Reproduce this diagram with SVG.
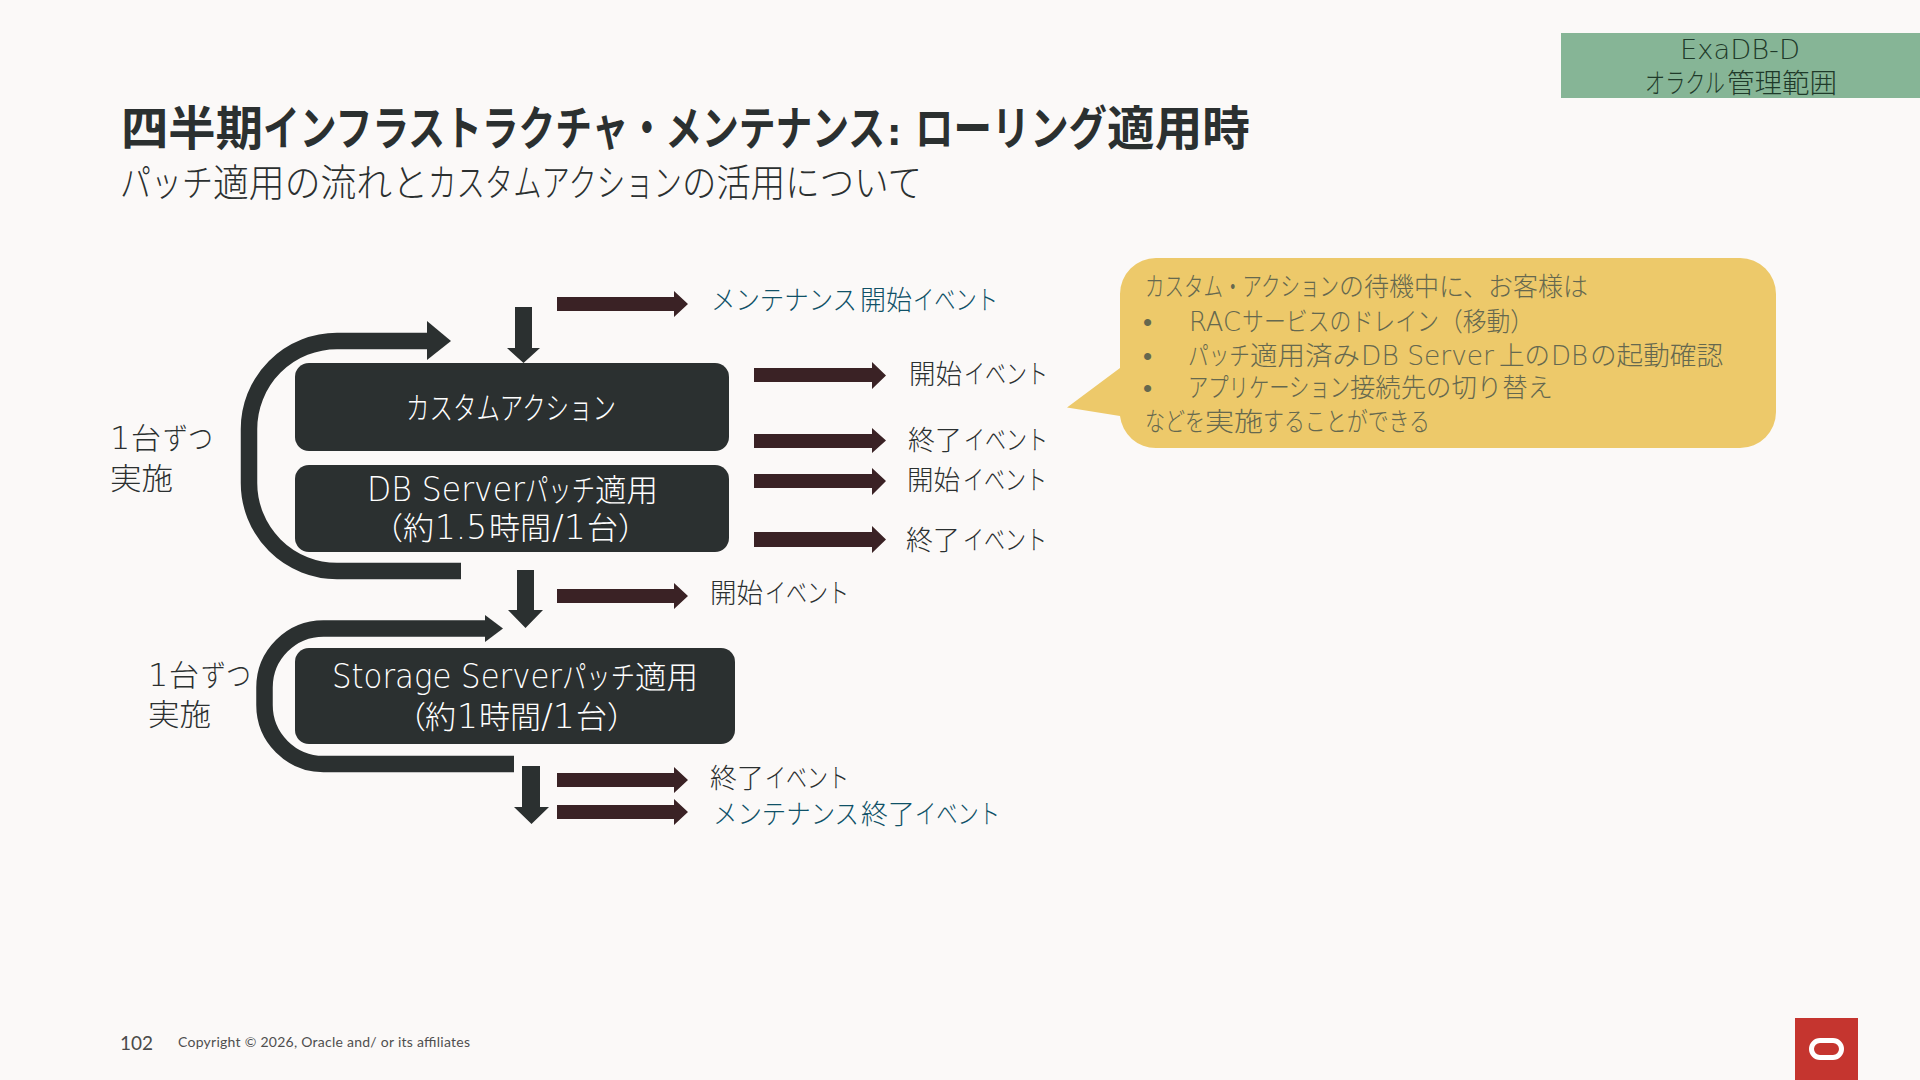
<svg xmlns="http://www.w3.org/2000/svg" width="1920" height="1080" viewBox="0 0 1920 1080">
<style>
text{font-family:"Noto Sans CJK JP",sans-serif;font-weight:300}
.l{font-family:"DejaVu Sans",sans-serif;font-weight:200}
.box{fill:#2b3030}
.bw{fill:#fff;font-size:31px}
.ev{fill:#2b3030;font-size:27px}
.mt{fill:#0f5167;font-size:27px}
.lb{fill:#2b3030;font-size:30px}
.co{fill:#65684f;font-size:26px}
.ra{fill:#3a2225}
.da{fill:#2b3030}
.loop{fill:none;stroke:#2b3030;stroke-width:16.5}
</style>
<rect width="1920" height="1080" fill="#fbf9f8"/>
<g id="title">
<text y="145" font-size="47" style="font-weight:700" fill="#2b3030"><tspan x="121" textLength="142" lengthAdjust="spacingAndGlyphs">四半期</tspan><tspan x="263" textLength="622" lengthAdjust="spacingAndGlyphs">インフラストラクチャ・メンテナンス</tspan><tspan x="887" class="l" style="font-weight:700" font-size="36">: </tspan><tspan x="915" textLength="192" lengthAdjust="spacingAndGlyphs">ローリング</tspan><tspan x="1107" textLength="143" lengthAdjust="spacingAndGlyphs">適用時</tspan></text>
<text y="196" font-size="38" fill="#2b3030"><tspan x="120" textLength="93" lengthAdjust="spacingAndGlyphs">パッチ</tspan><tspan x="213" textLength="215" lengthAdjust="spacingAndGlyphs">適用の流れと</tspan><tspan x="428" textLength="254" lengthAdjust="spacingAndGlyphs">カスタムアクション</tspan><tspan x="682" textLength="240" lengthAdjust="spacingAndGlyphs">の活用について</tspan></text>
</g>
<g id="badge">
<rect x="1561" y="33" width="359" height="65" fill="#86b596"/>
<text class="l" x="1680" y="59" font-size="27" fill="#1f3a2a" textLength="120" lengthAdjust="spacingAndGlyphs">ExaDB-D</text>
<text y="93" font-size="27" fill="#1f3a2a"><tspan x="1645" textLength="80" lengthAdjust="spacingAndGlyphs">オラクル</tspan><tspan x="1727" textLength="110" lengthAdjust="spacingAndGlyphs">管理範囲</tspan></text>
</g>
<g id="connectors">
<path class="loop" d="M430 341H337A88 88 0 0 0 249 429V483A88 88 0 0 0 337 571H461"/>
<polygon class="da" points="427,321 451,341 427,360"/>
<path class="loop" d="M488 628.500H323.500A59 59 0 0 0 264.500 687.500V705A59 59 0 0 0 323.500 764H514"/>
<polygon class="da" points="485,615 503,628.500 485,642"/>
<polygon class="da" points="515,307 532,307 532,348 540,348 523.500,363 507,348 515,348"/>
<polygon class="da" points="517,570 534,570 534,610 543,610 525.500,628 508,610 517,610"/>
<polygon class="da" points="522,766 540,766 540,807 549,807 531.500,824 514,807 522,807"/>
<polygon class="ra" points="557,297 674,297 674,291 688,304 674,317 674,311 557,311"/>
<polygon class="ra" points="754,368 872,368 872,362 886,375.500 872,389 872,382 754,382"/>
<polygon class="ra" points="754,434 872,434 872,428 886,440.500 872,453 872,448 754,448"/>
<polygon class="ra" points="754,474 872,474 872,468 886,481 872,495 872,488 754,488"/>
<polygon class="ra" points="754,532 872,532 872,526 886,539.500 872,553 872,547 754,547"/>
<polygon class="ra" points="557,589 674,589 674,583 688,596 674,609 674,603 557,603"/>
<polygon class="ra" points="557,773 674,773 674,767 688,780 674,793 674,787 557,787"/>
<polygon class="ra" points="557,805 674,805 674,799 688,812 674,825 674,819 557,819"/>
</g>
<g id="node-custom">
<rect class="box" x="295" y="363" width="434" height="88" rx="14"/>
<text class="bw" x="406" y="419" font-size="32" textLength="210" lengthAdjust="spacingAndGlyphs">カスタムアクション</text>
</g>
<g id="node-db">
<rect class="box" x="295" y="465" width="434" height="87" rx="14"/>
<text class="bw" y="501"><tspan class="l" x="367" font-size="33" textLength="158" lengthAdjust="spacingAndGlyphs">DB Server</tspan><tspan x="525" textLength="70" lengthAdjust="spacingAndGlyphs">パッチ</tspan><tspan x="595" textLength="63" lengthAdjust="spacingAndGlyphs">適用</tspan></text>
<text class="bw" y="539"><tspan x="372">（</tspan><tspan x="403">約</tspan><tspan class="l" x="435" font-size="33" textLength="52" lengthAdjust="spacingAndGlyphs">1.5</tspan><tspan x="489" textLength="62" lengthAdjust="spacingAndGlyphs">時間</tspan><tspan class="l" x="552" font-size="33" textLength="34" lengthAdjust="spacingAndGlyphs">/1</tspan><tspan x="587">台</tspan><tspan x="618">）</tspan></text>
</g>
<g id="node-storage">
<rect class="box" x="295" y="648" width="440" height="96" rx="14"/>
<text class="bw" y="688"><tspan class="l" x="332" font-size="33" textLength="230" lengthAdjust="spacingAndGlyphs">Storage Server</tspan><tspan x="562" textLength="73" lengthAdjust="spacingAndGlyphs">パッチ</tspan><tspan x="635" textLength="63" lengthAdjust="spacingAndGlyphs">適用</tspan></text>
<text class="bw" y="728"><tspan x="395">（</tspan><tspan x="425">約</tspan><tspan class="l" x="457" font-size="33">1</tspan><tspan x="479" textLength="62" lengthAdjust="spacingAndGlyphs">時間</tspan><tspan class="l" x="541" font-size="33" textLength="34" lengthAdjust="spacingAndGlyphs">/1</tspan><tspan x="576">台</tspan><tspan x="607">）</tspan></text>
</g>
<g id="labels">
<text class="lb" y="449"><tspan class="l" x="110" font-size="32">1</tspan><tspan x="131">台</tspan><tspan x="163" textLength="50" lengthAdjust="spacingAndGlyphs">ずつ</tspan></text>
<text class="lb" x="110" y="489" textLength="63" lengthAdjust="spacingAndGlyphs">実施</text>
<text class="lb" y="686"><tspan class="l" x="148" font-size="32">1</tspan><tspan x="169">台</tspan><tspan x="201" textLength="50" lengthAdjust="spacingAndGlyphs">ずつ</tspan></text>
<text class="lb" x="148" y="725" textLength="63" lengthAdjust="spacingAndGlyphs">実施</text>
<text class="mt" y="310"><tspan x="711" textLength="146" lengthAdjust="spacingAndGlyphs">メンテナンス</tspan><tspan x="860" textLength="52" lengthAdjust="spacingAndGlyphs">開始</tspan><tspan x="913" textLength="85" lengthAdjust="spacingAndGlyphs">イベント</tspan></text>
<text class="ev" y="384"><tspan x="909" textLength="53" lengthAdjust="spacingAndGlyphs">開始</tspan><tspan x="964" textLength="84" lengthAdjust="spacingAndGlyphs">イベント</tspan></text>
<text class="ev" y="450"><tspan x="908" textLength="54" lengthAdjust="spacingAndGlyphs">終了</tspan><tspan x="964" textLength="84" lengthAdjust="spacingAndGlyphs">イベント</tspan></text>
<text class="ev" y="490"><tspan x="907" textLength="53" lengthAdjust="spacingAndGlyphs">開始</tspan><tspan x="963" textLength="84" lengthAdjust="spacingAndGlyphs">イベント</tspan></text>
<text class="ev" y="550"><tspan x="906" textLength="54" lengthAdjust="spacingAndGlyphs">終了</tspan><tspan x="963" textLength="84" lengthAdjust="spacingAndGlyphs">イベント</tspan></text>
<text class="ev" y="603"><tspan x="710" textLength="53" lengthAdjust="spacingAndGlyphs">開始</tspan><tspan x="765" textLength="84" lengthAdjust="spacingAndGlyphs">イベント</tspan></text>
<text class="ev" y="788"><tspan x="710" textLength="54" lengthAdjust="spacingAndGlyphs">終了</tspan><tspan x="765" textLength="84" lengthAdjust="spacingAndGlyphs">イベント</tspan></text>
<text class="mt" y="824"><tspan x="713" textLength="146" lengthAdjust="spacingAndGlyphs">メンテナンス</tspan><tspan x="861" textLength="54" lengthAdjust="spacingAndGlyphs">終了</tspan><tspan x="915" textLength="85" lengthAdjust="spacingAndGlyphs">イベント</tspan></text>
</g>
<g id="callout">
<path fill="#edc96a" d="M1156 258H1740A36 36 0 0 1 1776 294V412A36 36 0 0 1 1740 448H1156A36 36 0 0 1 1120 416L1067 407.500L1120 368V294A36 36 0 0 1 1156 258Z"/>
<text class="co" y="296"><tspan x="1145" textLength="194" lengthAdjust="spacingAndGlyphs">カスタム・アクション</tspan><tspan x="1339" textLength="249" lengthAdjust="spacingAndGlyphs">の待機中に、お客様は</tspan></text>
<text class="co" x="1143" y="331" style="font-family:'DejaVu Sans',sans-serif">•</text>
<text class="co" y="331"><tspan class="l" x="1189" textLength="52" lengthAdjust="spacingAndGlyphs">RAC</tspan><tspan x="1242" textLength="197" lengthAdjust="spacingAndGlyphs">サービスのドレイン</tspan><tspan x="1439" textLength="95" lengthAdjust="spacingAndGlyphs">（移動）</tspan></text>
<text class="co" x="1143" y="365" style="font-family:'DejaVu Sans',sans-serif">•</text>
<text class="co" y="365"><tspan x="1188" textLength="62" lengthAdjust="spacingAndGlyphs">パッチ</tspan><tspan x="1250" textLength="110" lengthAdjust="spacingAndGlyphs">適用済み</tspan><tspan class="l" x="1361" textLength="133" lengthAdjust="spacingAndGlyphs">DB Server</tspan><tspan x="1499" textLength="51" lengthAdjust="spacingAndGlyphs">上の</tspan><tspan class="l" x="1551" textLength="37" lengthAdjust="spacing">DB</tspan><tspan x="1590" textLength="133" lengthAdjust="spacingAndGlyphs">の起動確認</tspan></text>
<text class="co" x="1143" y="397" style="font-family:'DejaVu Sans',sans-serif">•</text>
<text class="co" y="397"><tspan x="1188" textLength="162" lengthAdjust="spacingAndGlyphs">アプリケーション</tspan><tspan x="1350" textLength="203" lengthAdjust="spacingAndGlyphs">接続先の切り替え</tspan></text>
<text class="co" y="431"><tspan x="1145" textLength="60" lengthAdjust="spacingAndGlyphs">などを</tspan><tspan x="1205" textLength="58" lengthAdjust="spacingAndGlyphs">実施</tspan><tspan x="1263" textLength="167" lengthAdjust="spacingAndGlyphs">することができる</tspan></text>
</g>
<g id="footer">
<text x="120" y="1050" font-size="20" fill="#4a4a4a" style="font-family:Lato,sans-serif;font-weight:400" textLength="33" lengthAdjust="spacingAndGlyphs">102</text>
<text x="178" y="1047" font-size="14" fill="#4f4f4f" style="font-family:Lato,sans-serif;font-weight:400" textLength="292" lengthAdjust="spacing">Copyright © 2026, Oracle and/ or its affiliates</text>
<rect x="1795" y="1018" width="63" height="62" fill="#c5352f"/>
<rect x="1811.500" y="1040.500" width="30" height="17" rx="8.500" fill="none" stroke="#fff" stroke-width="5"/>
</g>
</svg>
